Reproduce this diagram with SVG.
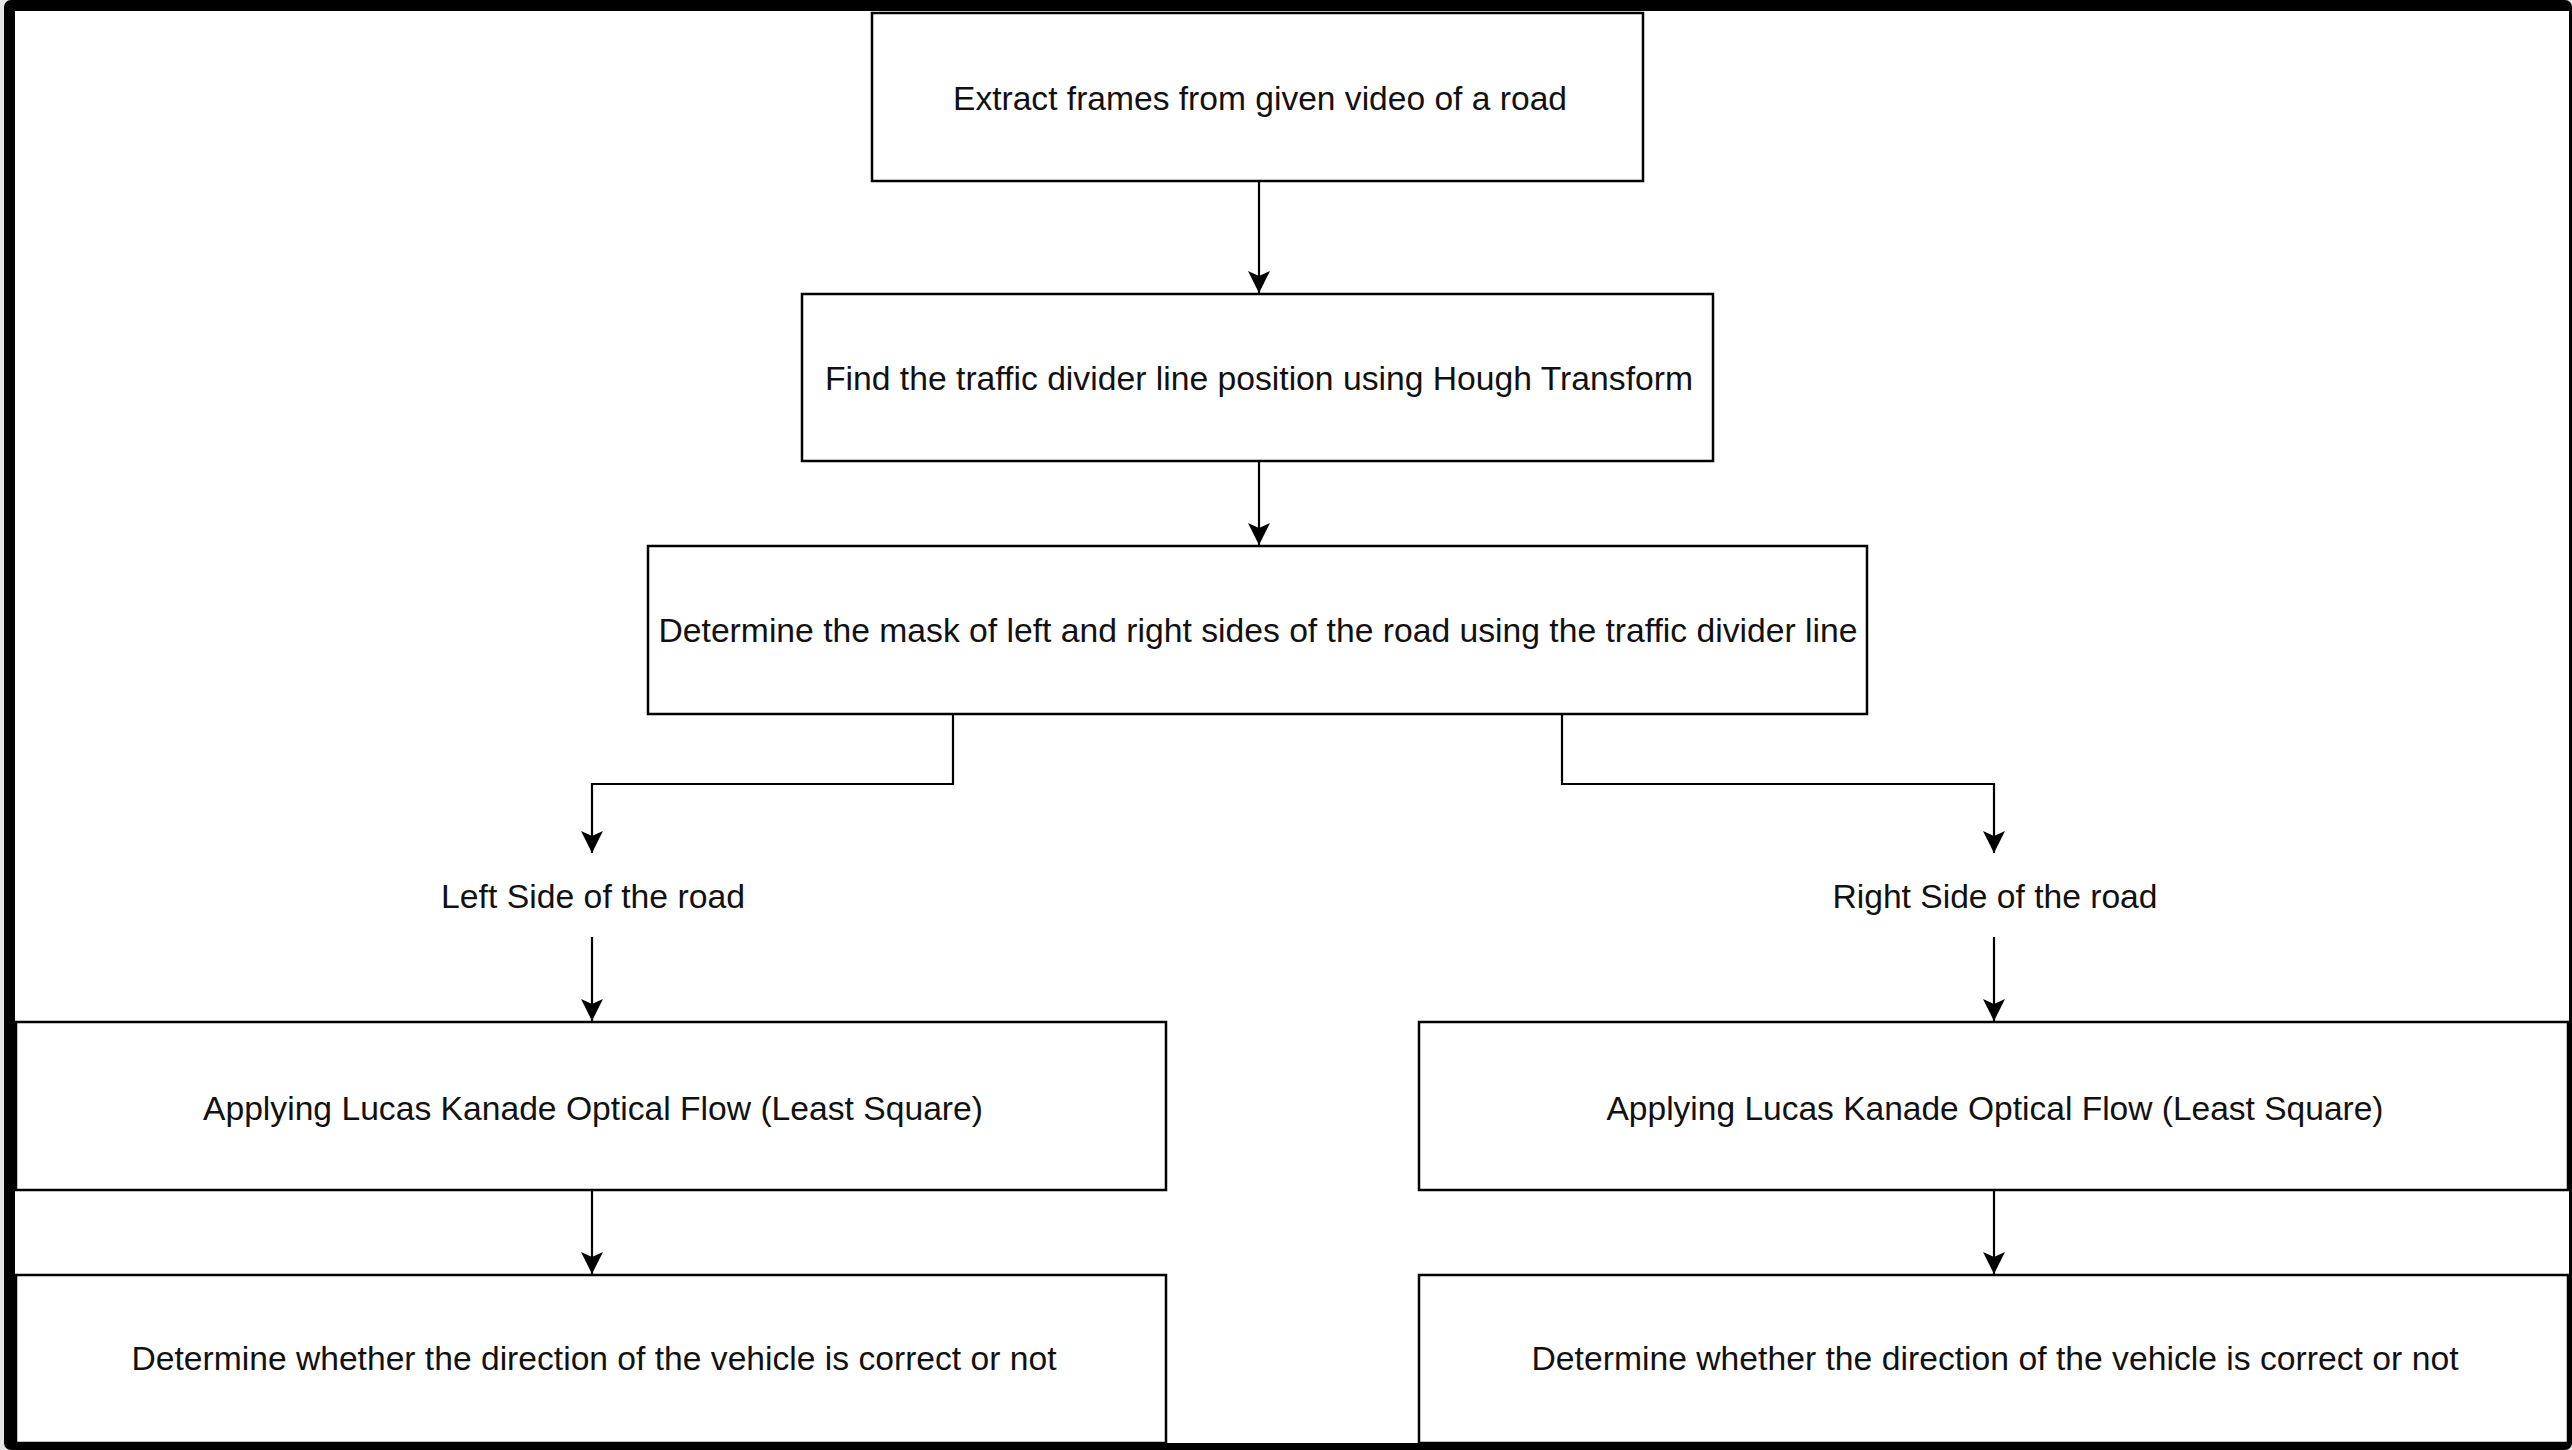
<svg xmlns="http://www.w3.org/2000/svg" width="2572" height="1450" viewBox="0 0 2572 1450">
<defs>
<style>
.box{fill:#fff;stroke:#000;stroke-width:2.5}
.lbl{font-family:"Liberation Sans",Arial,Helvetica,sans-serif;font-size:33px;fill:#111;text-anchor:middle}
.con{fill:none;stroke:#000;stroke-width:2.2}
</style>
<marker id="arr" viewBox="0 0 24 24" markerWidth="24" markerHeight="24" refX="22" refY="12" orient="auto" markerUnits="userSpaceOnUse">
<path d="M22 12 L0 1 L5 12 L0 23 Z" fill="#000"/>
</marker>
</defs>
<rect x="0" y="0" width="2572" height="1450" fill="#e6e6e6"/>
<rect x="4" y="0" width="2568" height="1450" rx="7" fill="#000"/>
<rect x="15" y="11" width="2554" height="1432" fill="#fff"/>

<g id="n1"><rect class="box" x="872" y="13" width="771" height="168"/><text class="lbl" x="1260" y="110" textLength="614" lengthAdjust="spacingAndGlyphs">Extract frames from given video of a road</text></g>
<g id="n2"><rect class="box" x="802" y="294" width="911" height="167"/><text class="lbl" x="1259" y="390" textLength="868" lengthAdjust="spacingAndGlyphs">Find the traffic divider line position using Hough Transform</text></g>
<g id="n3"><rect class="box" x="648" y="546" width="1219" height="168"/><text class="lbl" x="1258" y="642" textLength="1199" lengthAdjust="spacingAndGlyphs">Determine the mask of left and right sides of the road using the traffic divider line</text></g>
<g id="n4"><text class="lbl" x="593" y="908" textLength="304" lengthAdjust="spacingAndGlyphs">Left Side of the road</text></g>
<g id="n5"><text class="lbl" x="1995" y="908" textLength="325" lengthAdjust="spacingAndGlyphs">Right Side of the road</text></g>
<g id="n6"><rect class="box" x="16" y="1022" width="1150" height="168"/><text class="lbl" x="593" y="1120" textLength="780" lengthAdjust="spacingAndGlyphs">Applying Lucas Kanade Optical Flow (Least Square)</text></g>
<g id="n7"><rect class="box" x="1419" y="1022" width="1149" height="168"/><text class="lbl" x="1995" y="1120" textLength="777" lengthAdjust="spacingAndGlyphs">Applying Lucas Kanade Optical Flow (Least Square)</text></g>
<g id="n8"><rect class="box" x="16" y="1275" width="1150" height="168"/><text class="lbl" x="594" y="1370" textLength="925" lengthAdjust="spacingAndGlyphs">Determine whether the direction of the vehicle is correct or not</text></g>
<g id="n9"><rect class="box" x="1419" y="1275" width="1149" height="168"/><text class="lbl" x="1995" y="1370" textLength="927" lengthAdjust="spacingAndGlyphs">Determine whether the direction of the vehicle is correct or not</text></g>

<g id="connectors">
<path class="con" d="M1259 181 V293" marker-end="url(#arr)"/>
<path class="con" d="M1259 461 V545" marker-end="url(#arr)"/>
<path class="con" d="M953 714 V784 H592 V853" marker-end="url(#arr)"/>
<path class="con" d="M1562 714 V784 H1994 V853" marker-end="url(#arr)"/>
<path class="con" d="M592 937 V1021" marker-end="url(#arr)"/>
<path class="con" d="M592 1190 V1274" marker-end="url(#arr)"/>
<path class="con" d="M1994 937 V1021" marker-end="url(#arr)"/>
<path class="con" d="M1994 1190 V1274" marker-end="url(#arr)"/>
</g>
</svg>
